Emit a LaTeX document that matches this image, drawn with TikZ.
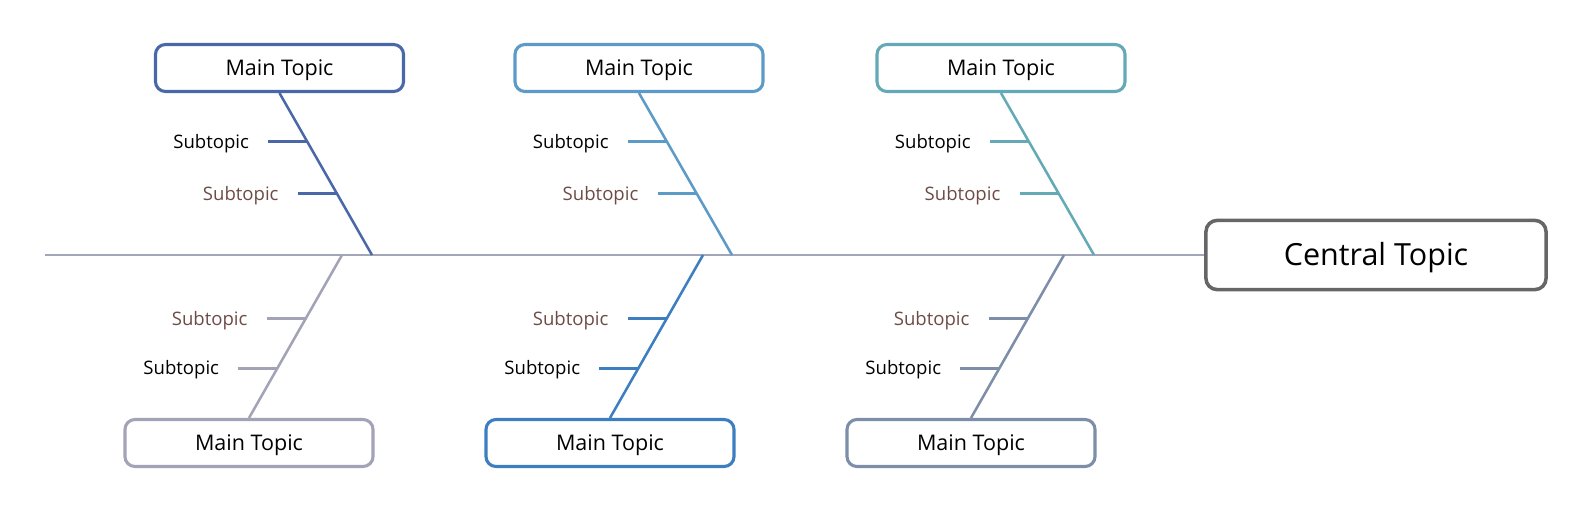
\documentclass[tikz,border=0pt]{standalone}
\usepackage{fontspec}
\setmainfont{Open Sans}
\usetikzlibrary{positioning}
\definecolor{topA}{RGB}{74,104,168}
\definecolor{topB}{RGB}{92,154,200}
\definecolor{topC}{RGB}{100,170,182}
\definecolor{botA}{RGB}{163,163,184}
\definecolor{botB}{RGB}{60,126,192}
\definecolor{botC}{RGB}{124,142,168}
\definecolor{spinegray}{RGB}{163,166,184}
\definecolor{centralgray}{RGB}{102,102,102}
\definecolor{subbrown}{RGB}{110,76,70}
\begin{document}
\begin{tikzpicture}[x=0.025cm, y=-0.025cm,
        topic/.style={draw, rounded corners=0.25cm, line width=2.2pt, minimum width=6.2cm, minimum height=1.175cm, text height=11pt, text depth=0pt, font=\fontsize{15.3}{18}\selectfont},
        sub/.style={inner xsep=0pt, text height=9.5pt, text depth=0pt, font=\fontsize{13.2}{16}\selectfont},
        bone/.style={line width=1.8pt},
        tick/.style={line width=1.8pt, shorten >=0.475cm}]
    \useasboundingbox (0,0) rectangle (1592,528);

    % Central topic and spine
    \node[draw=centralgray, rounded corners=0.28cm, line width=2.5pt, minimum width=8.5cm, minimum height=1.73cm, text height=15.6pt, text depth=0pt, font=\fontsize{21.7}{26}\selectfont] (central) at (1376,255) {Central Topic};
    \coordinate (tail) at (45,255);
    \draw[line width=1.6pt, spinegray] (tail) -- (central.west);

    % Upper topics
    \node[topic, draw=topA] (top1) at (279.5,68) {Main Topic};
    \node[topic, draw=topB] (top2) at (639,68) {Main Topic};
    \node[topic, draw=topC] (top3) at (1001,68) {Main Topic};
    \coordinate (j1) at (372,255);
    \coordinate (j2) at (732,255);
    \coordinate (j3) at (1094,255);

    % Lower topics
    \node[topic, draw=botA] (bot1) at (249,443) {Main Topic};
    \node[topic, draw=botB] (bot2) at (610,443) {Main Topic};
    \node[topic, draw=botC] (bot3) at (971,443) {Main Topic};
    \coordinate (k1) at (342,255);
    \coordinate (k2) at (703,255);
    \coordinate (k3) at (1064,255);

    % Upper bones
    \draw[bone, topA] (top1.south) -- (j1) coordinate[pos=0.30] (a1) coordinate[pos=0.62] (b1);
    \draw[bone, topB] (top2.south) -- (j2) coordinate[pos=0.30] (a2) coordinate[pos=0.62] (b2);
    \draw[bone, topC] (top3.south) -- (j3) coordinate[pos=0.30] (a3) coordinate[pos=0.62] (b3);

    % Lower bones
    \draw[bone, botA] (k1) -- (bot1.north) coordinate[pos=0.39] (c1) coordinate[pos=0.695] (d1);
    \draw[bone, botB] (k2) -- (bot2.north) coordinate[pos=0.39] (c2) coordinate[pos=0.695] (d2);
    \draw[bone, botC] (k3) -- (bot3.north) coordinate[pos=0.39] (c3) coordinate[pos=0.695] (d3);

    % Subtopics, upper
    \node[sub, left=1.45cm of a1] (sa1) {Subtopic};
    \node[sub, left=1.45cm of b1, text=subbrown] (sb1) {Subtopic};
    \node[sub, left=1.45cm of a2] (sa2) {Subtopic};
    \node[sub, left=1.45cm of b2, text=subbrown] (sb2) {Subtopic};
    \node[sub, left=1.45cm of a3] (sa3) {Subtopic};
    \node[sub, left=1.45cm of b3, text=subbrown] (sb3) {Subtopic};
    \draw[tick, topA] (a1) -- (sa1);
    \draw[tick, topA] (b1) -- (sb1);
    \draw[tick, topB] (a2) -- (sa2);
    \draw[tick, topB] (b2) -- (sb2);
    \draw[tick, topC] (a3) -- (sa3);
    \draw[tick, topC] (b3) -- (sb3);

    % Subtopics, lower
    \node[sub, left=1.45cm of c1, text=subbrown] (sc1) {Subtopic};
    \node[sub, left=1.45cm of d1] (sd1) {Subtopic};
    \node[sub, left=1.45cm of c2, text=subbrown] (sc2) {Subtopic};
    \node[sub, left=1.45cm of d2] (sd2) {Subtopic};
    \node[sub, left=1.45cm of c3, text=subbrown] (sc3) {Subtopic};
    \node[sub, left=1.45cm of d3] (sd3) {Subtopic};
    \draw[tick, botA] (c1) -- (sc1);
    \draw[tick, botA] (d1) -- (sd1);
    \draw[tick, botB] (c2) -- (sc2);
    \draw[tick, botB] (d2) -- (sd2);
    \draw[tick, botC] (c3) -- (sc3);
    \draw[tick, botC] (d3) -- (sd3);
\end{tikzpicture}
\end{document}
